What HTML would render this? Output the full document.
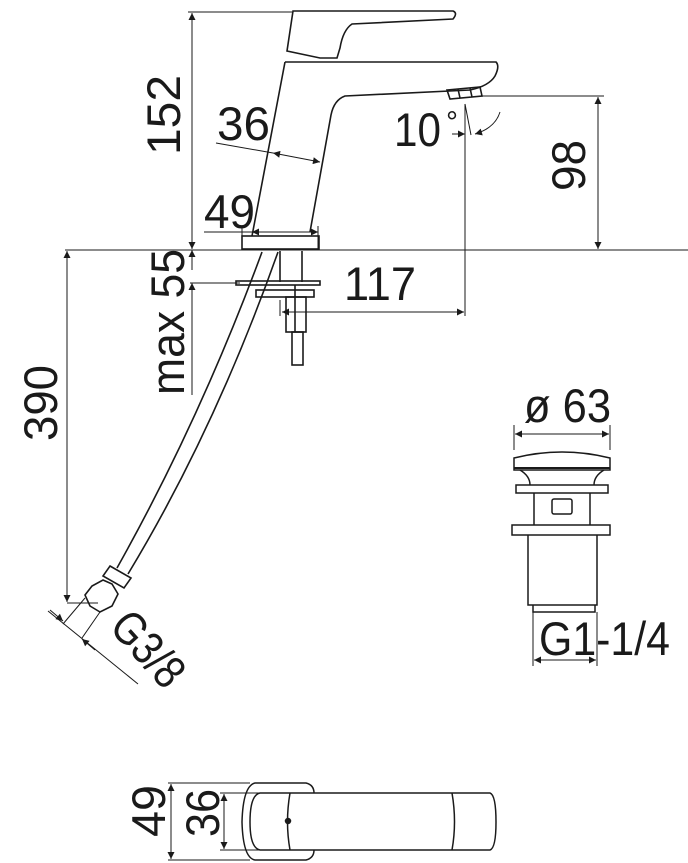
<!DOCTYPE html>
<html><head><style>html,body{margin:0;padding:0;background:#fff}svg{display:block}text{font-family:"Liberation Sans",sans-serif;fill:#1a1a1a}</style></head>
<body>
<svg width="688" height="863" viewBox="0 0 688 863" xmlns="http://www.w3.org/2000/svg">
<defs>
<marker id="a" viewBox="0 0 10 10" refX="10" refY="5" markerWidth="9" markerHeight="7" orient="auto-start-reverse" markerUnits="userSpaceOnUse"><path d="M0,0L10,5L0,10z" fill="#1a1a1a"/></marker>
</defs>
<g stroke="#1a1a1a" fill="none" stroke-width="1">
<line x1="188" y1="12" x2="292" y2="12"/>
<line x1="192" y1="13" x2="192" y2="249" marker-start="url(#a)" marker-end="url(#a)"/>
<line x1="65" y1="250" x2="688" y2="250"/>
<line x1="480" y1="96" x2="604" y2="96"/>
<line x1="598" y1="97" x2="598" y2="249" marker-start="url(#a)" marker-end="url(#a)"/>
<line x1="465" y1="104" x2="465" y2="316"/>
<line x1="282" y1="312" x2="464" y2="312" marker-start="url(#a)" marker-end="url(#a)"/>
<line x1="280" y1="300" x2="280" y2="316"/>
<line x1="216" y1="143" x2="273" y2="153"/>
<line x1="273" y1="153" x2="320" y2="162" marker-start="url(#a)" marker-end="url(#a)"/>
<line x1="204" y1="232" x2="252" y2="232"/>
<line x1="252" y1="232" x2="318" y2="232" marker-start="url(#a)" marker-end="url(#a)"/>
<line x1="318" y1="226" x2="318" y2="250"/>
<line x1="242" y1="226" x2="242" y2="250"/>
<line x1="190" y1="283" x2="240" y2="283"/>
<line x1="192" y1="250" x2="192" y2="270" marker-start="url(#a)"/>
<line x1="192" y1="283" x2="192" y2="395" marker-start="url(#a)"/>
<line x1="67" y1="251" x2="67" y2="602" marker-start="url(#a)" marker-end="url(#a)"/>
<line x1="67" y1="603" x2="98" y2="603"/>
<line x1="465" y1="104" x2="471" y2="135"/>
<path d="M500,112 Q495,128 475,134" marker-end="url(#a)"/>
<line x1="452" y1="134" x2="465" y2="134" marker-end="url(#a)"/>
<g stroke-width="1.6">
<path d="M293,11 L453,11 Q458,13 453,19 L352,24 Q343,30 340,48 L337,58 L320,58 L287,51 Z"/>
<path d="M285,62 L496,62 Q500,66 495,76 Q489,86 470,90 L345,96 Q334,100 331,115 L310,232 M285,62 L252,236"/>
<path d="M447,90 L480,87 L482,96 L450,99 Z M458,89 L460,98 M470,88 L472,97"/>
<rect x="242" y="236" width="77" height="13"/>
<rect x="236" y="281" width="84" height="4"/>
<rect x="256" y="290" width="58" height="7"/>
<rect x="286" y="297" width="20" height="35"/>
<rect x="292" y="332" width="11" height="33"/>
<line x1="280" y1="251" x2="280" y2="282"/><line x1="302" y1="251" x2="302" y2="282"/>
<line x1="295" y1="285" x2="295" y2="332"/>
<path d="M262,252 Q200,420 117,568"/>
<path d="M278,252 Q215,430 128,574"/>
<path d="M110,566 L131,578 L124,588 L103,576 Z"/>
<path d="M103,580 L112,584 L118,594 L112,606 L100,612 L90,606 L85,595 L92,586 Z"/>
</g>
<line x1="48" y1="611" x2="138" y2="684"/>
<line x1="85" y1="598" x2="63" y2="624"/>
<line x1="100" y1="612" x2="82" y2="638"/>
<line x1="50" y1="610" x2="63" y2="621" marker-end="url(#a)"/>
<line x1="95" y1="650" x2="82" y2="639" marker-end="url(#a)"/>
<line x1="514" y1="425" x2="514" y2="450"/><line x1="610" y1="425" x2="610" y2="450"/>
<line x1="515" y1="434" x2="609" y2="434" marker-start="url(#a)" marker-end="url(#a)"/>
<g stroke-width="1.5">
<path d="M514,458 Q562,446 610,458 L610,470 L514,470 Z"/>
<line x1="514" y1="468" x2="610" y2="468" stroke-width="2"/>
<path d="M520,470 Q530,476 530,485 M604,470 Q594,476 594,485"/>
<rect x="516" y="485" width="92" height="8"/>
<path d="M534,493 L534,525 M590,493 L590,525"/>
<rect x="552" y="499" width="20" height="15" rx="2"/>
<rect x="512" y="525" width="98" height="10"/>
<path d="M528,535 L528,605 L597,605 L597,535"/>
<path d="M533,605 L533,612 L595,612 L595,605"/>
</g>
<line x1="533" y1="612" x2="533" y2="666"/><line x1="597" y1="612" x2="597" y2="666"/>
<line x1="534" y1="660" x2="596" y2="660" marker-start="url(#a)" marker-end="url(#a)"/>
<line x1="168" y1="783" x2="250" y2="783"/><line x1="168" y1="860" x2="250" y2="860"/>
<line x1="171" y1="784" x2="171" y2="859" marker-start="url(#a)" marker-end="url(#a)"/>
<line x1="220" y1="793" x2="260" y2="793"/><line x1="220" y1="850" x2="260" y2="850"/>
<line x1="224" y1="794" x2="224" y2="849" marker-start="url(#a)" marker-end="url(#a)"/>
<g stroke-width="1.5">
<path d="M314,793 Q314,785 306,783 L255,783 Q243,786 242,822 Q243,858 255,860 L306,860 Q314,858 314,850"/>
<path d="M260,793 L490,793 Q496,795 496,822 Q496,848 490,850 L260,850 Q250,848 250,822 Q250,795 260,793 Z"/>
<path d="M290,793 Q285,822 290,850 M452,793 Q457,822 452,850"/>
<circle cx="288" cy="821" r="2.5" fill="#1a1a1a"/>
</g>
</g>
<g font-size="47">
<text transform="translate(180,155) rotate(-90)" textLength="80" lengthAdjust="spacingAndGlyphs">152</text>
<text x="217" y="140" textLength="53" lengthAdjust="spacingAndGlyphs">36</text>
<text x="394" y="146" textLength="47" lengthAdjust="spacingAndGlyphs">10</text>
<text x="446" y="132" font-size="30">°</text>
<text transform="translate(585,191) rotate(-90)" textLength="51" lengthAdjust="spacingAndGlyphs">98</text>
<text x="204" y="228" textLength="51" lengthAdjust="spacingAndGlyphs">49</text>
<text x="344" y="300" textLength="72" lengthAdjust="spacingAndGlyphs">117</text>
<text transform="translate(184,395) rotate(-90)" textLength="146" lengthAdjust="spacingAndGlyphs">max 55</text>
<text transform="translate(57,441) rotate(-90)" textLength="76" lengthAdjust="spacingAndGlyphs">390</text>
<text x="524" y="422" textLength="87" lengthAdjust="spacingAndGlyphs">ø 63</text>
<text x="539" y="655" textLength="131" lengthAdjust="spacingAndGlyphs">G1-1/4</text>
<text transform="translate(108,628) rotate(48)" textLength="85" lengthAdjust="spacingAndGlyphs">G3/8</text>
<text transform="translate(165,837) rotate(-90)" textLength="52" lengthAdjust="spacingAndGlyphs">49</text>
<text transform="translate(219,837) rotate(-90)" textLength="48" lengthAdjust="spacingAndGlyphs">36</text>
</g>
</svg>
</body></html>
